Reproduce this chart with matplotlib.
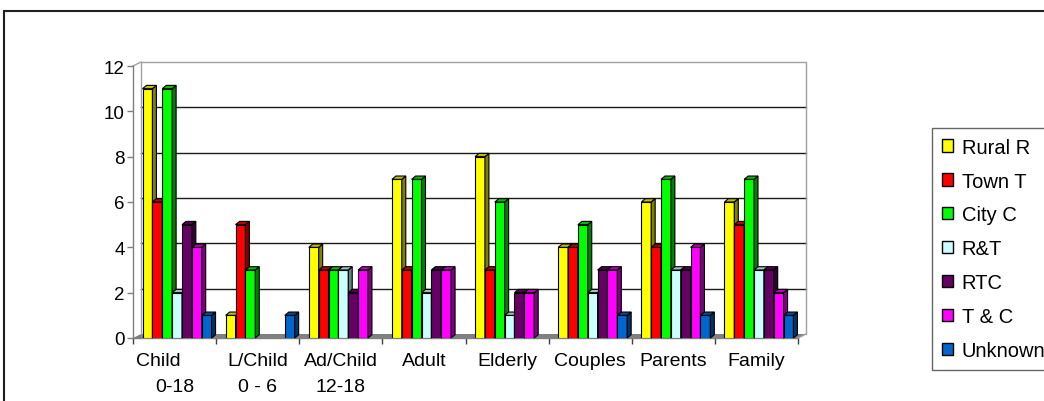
import matplotlib
matplotlib.use("Agg")
import matplotlib.pyplot as plt
import matplotlib.transforms as mtransforms
from matplotlib.patches import Polygon, Rectangle
from matplotlib.colors import to_rgb

# ---------------- data ----------------
cat_line1 = ["Child", "L/Child", "Ad/Child", "Adult", "Elderly", "Couples", "Parents", "Family"]
cat_line2 = ["0-18", "0 - 6", "12-18", "", "", "", "", ""]
series_names = ["Rural R", "Town T", "City C", "R&T", "RTC", "T & C", "Unknown"]
rural_r = [11, 1, 4, 7, 8, 4, 6, 6]
town_t = [6, 5, 3, 3, 3, 4, 4, 5]
city_c = [11, 3, 3, 7, 6, 5, 7, 7]
r_and_t = [2, 0, 3, 2, 1, 2, 3, 3]
rtc = [5, 0, 2, 3, 2, 3, 3, 3]
t_and_c = [4, 0, 3, 3, 2, 3, 4, 2]
unknown = [1, 1, 0, 0, 0, 1, 1, 1]
series_values = [rural_r, town_t, city_c, r_and_t, rtc, t_and_c, unknown]
colors = ["#FFFF00", "#FF0000", "#00FF00", "#CCFFFF", "#660066", "#FF00FF", "#0066CC"]
y_ticks = [0, 2, 4, 6, 8, 10, 12]

# ---------------- layout ----------------
W, H = 1044, 402
plt.rcParams["font.family"] = ["Liberation Sans", "DejaVu Sans"]
FS_X = 14
FS_Y = 13.5
FS_LEG = 14.5

fig = plt.figure(figsize=(W / 100, H / 100), dpi=100)
fig.patch.set_facecolor("white")

ax_l, ax_r, ax_t, ax_b = 133, 798, 67, 339
ax = fig.add_axes([ax_l / W, 1 - ax_b / H, (ax_r - ax_l) / W, (ax_b - ax_t) / H])
ncat = len(cat_line1)
ax.set_xlim(0, ncat)
ax.set_ylim(0, max(y_ticks))
ax.patch.set_visible(False)

px_x = ncat / (ax_r - ax_l)
px_y = max(y_ticks) / (ax_b - ax_t)

# back wall offsets (3D look)
bx, by = 8 * px_x, 4 * px_y
floor = Polygon([(0, 0), (ncat, 0), (ncat + bx, by), (bx, by)], closed=True,
                facecolor="#808080", edgecolor="none", zorder=1, clip_on=False)
ax.add_patch(floor)
for yv in y_ticks[1:-1]:
    ax.plot([bx, ncat + bx], [yv + by, yv + by], color="#1a1a1a", lw=1.0, zorder=1, clip_on=False)
ytop = max(y_ticks)
ax.plot([bx, bx, ncat + bx, ncat + bx], [by, ytop + by, ytop + by, by], color="#a0a0a0",
        lw=1.0, zorder=1, clip_on=False)
ax.plot([0, bx], [ytop, ytop + by], color="#a0a0a0", lw=1.0, zorder=1, clip_on=False)
ax.plot([ncat, ncat + bx], [0, by], color="#a0a0a0", lw=1.0, zorder=1, clip_on=False)

# ---------------- bars ----------------
nser = len(series_values)
group_start, group_span = 0.115, 0.83
bw = group_span / nser
dx, dy = 4 * px_x, 3.3 * px_y


def shade(c, f):
    r, g, b = to_rgb(c)
    return (r * f, g * f, b * f)


for i, (vals, col, name) in enumerate(zip(series_values, colors, series_names)):
    xs = [k + group_start + i * bw for k in range(ncat)]
    lws = [0.8 if v > 0 else 0 for v in vals]
    ax.bar(xs, vals, width=bw, align="edge", color=col, edgecolor="black",
           linewidth=lws, zorder=3 + i, label=name)
    for x, v in zip(xs, vals):
        if v <= 0:
            continue
        side = Polygon([(x + bw, 0), (x + bw + dx, dy), (x + bw + dx, v + dy), (x + bw, v)],
                       closed=True, facecolor=shade(col, 0.5), edgecolor="black",
                       linewidth=0.8, zorder=3 + i, clip_on=False)
        top = Polygon([(x, v), (x + dx, v + dy), (x + bw + dx, v + dy), (x + bw, v)],
                      closed=True, facecolor=shade(col, 0.75), edgecolor="black",
                      linewidth=0.8, zorder=3 + i, clip_on=False)
        ax.add_patch(side)
        ax.add_patch(top)

# ---------------- axes styling ----------------
for s in ["top", "right"]:
    ax.spines[s].set_visible(False)
for s in ["left", "bottom"]:
    ax.spines[s].set_color("#808080")
    ax.spines[s].set_linewidth(1.0)
    ax.spines[s].set_zorder(2)

ax.set_yticks(y_ticks)
ax.set_yticklabels([str(t) for t in y_ticks], fontsize=FS_Y)
ax.tick_params(axis="y", direction="out", length=4.5, width=1, color="#808080", pad=1.5)

ax.set_xticks(range(ncat + 1))
ax.set_xticklabels([])
ax.tick_params(axis="x", which="major", direction="out", length=4, width=1, color="#404040")
line1 = list(cat_line1)
line1[0] = cat_line1[0] + "      "
ax.set_xticks([k + 0.5 for k in range(ncat)], minor=True)
ax.set_xticklabels(line1, minor=True, fontsize=FS_X, va="top")
ax.tick_params(axis="x", which="minor", length=0, pad=10)

# second label row
row2_tr = mtransforms.blended_transform_factory(ax.transData, ax.transAxes) + \
    mtransforms.ScaledTranslation(0, -49 / 100, fig.dpi_scale_trans)
for k, t in enumerate(cat_line2):
    if t:
        ax.text(k + 0.5, 0, t, transform=row2_tr, ha="center", va="center",
                fontsize=FS_X, clip_on=False)

# ---------------- legend ----------------
handles = [Rectangle((0, 0), 1, 1, facecolor=c, edgecolor="black", linewidth=1.0) for c in colors]
leg = fig.legend(handles, series_names, loc="upper left",
                 bbox_to_anchor=(932 / W, 1 - 129 / H), bbox_transform=fig.transFigure,
                 borderaxespad=0, fontsize=FS_LEG, frameon=True, fancybox=False,
                 handlelength=0.55, handleheight=0.55, handletextpad=0.45,
                 labelspacing=0.74, borderpad=0.48)
leg.get_frame().set_edgecolor("#404040")
leg.get_frame().set_linewidth(1.0)

# ---------------- outer chart border ----------------
border = Rectangle((4 / W, -0.2), 1.2, 1 - 12 / H + 0.2, transform=fig.transFigure,
                   facecolor="none", edgecolor="#202020", linewidth=1.5, clip_on=False)
fig.patches.append(border)

fig.savefig("out.png", dpi=100, facecolor="white")
